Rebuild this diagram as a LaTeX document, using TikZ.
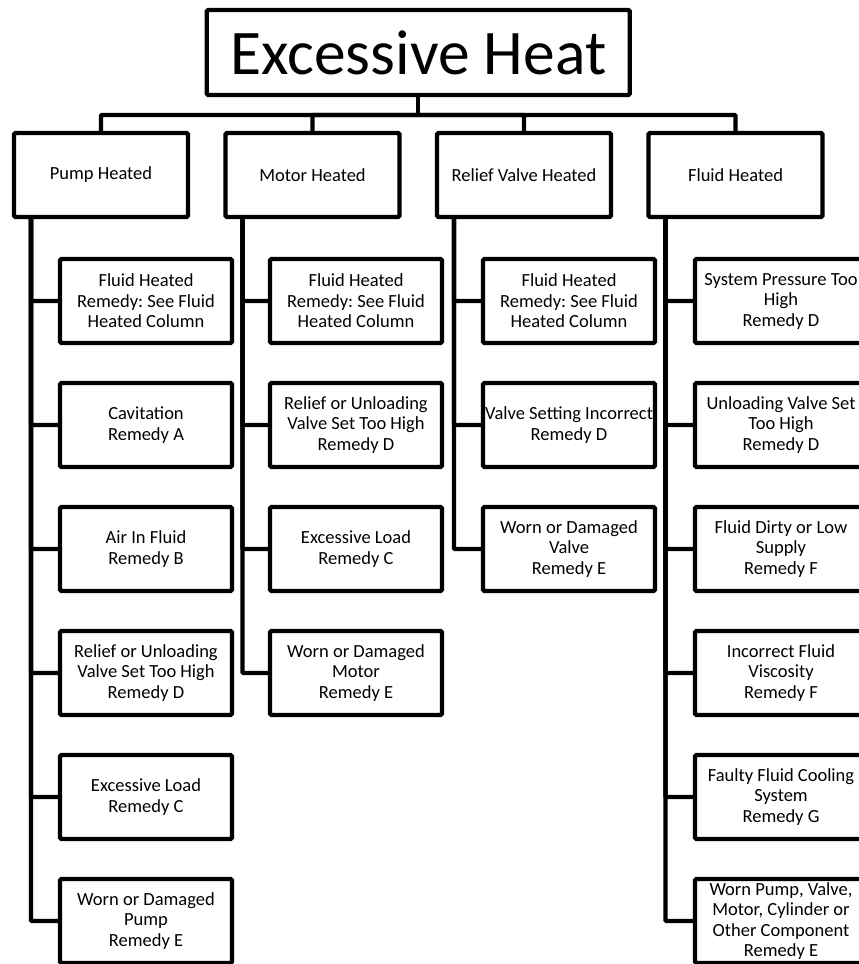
\documentclass[tikz,border=0pt]{standalone}
\usepackage{fontspec}
\setmainfont{Carlito}
\frenchspacing
\usetikzlibrary{positioning}
\tikzset{
  titlebox/.style={
    draw=black, line width=4.3pt, rounded corners=1.5pt,
    outer sep=0pt, minimum width=423pt, minimum height=85pt,
    font=\fontsize{63.5}{70}\selectfont
  },
  groupbox/.style={
    draw=black, line width=4.3pt, rounded corners=1.5pt,
    outer sep=0pt, inner xsep=0pt, minimum width=174pt,
    minimum height=84pt, align=center,
    font=\fontsize{18.5}{20.5}\selectfont
  },
  causebox/.style={
    draw=black, line width=4.3pt, rounded corners=1.5pt,
    outer sep=0pt, inner xsep=0pt, minimum width=172pt,
    minimum height=84pt, align=center,
    font=\fontsize{18.5}{20.5}\selectfont
  },
  treelink/.style={
    draw=black, line width=4.3pt, rounded corners=1pt
  },
}

\begin{document}
\begin{tikzpicture}[x=1pt, y=1pt, node distance=40pt]

  \useasboundingbox (0,0) rectangle (859,-964);
  \clip (0,0) rectangle (859,-964);

  \node[titlebox] (heat) at (418.25,-52.5) {Excessive Heat};

  %% Groups
  \node[groupbox, below=38pt of heat, xshift=-317.25pt] (pump)
    {Pump Heated};
  \node[groupbox, below=38pt of heat, xshift=-105.75pt] (motor)
    {Motor Heated};
  \node[groupbox, below=38pt of heat, xshift=105.75pt] (relief)
    {Relief Valve Heated};
  \node[groupbox, below=38pt of heat, xshift=317.25pt] (fluid)
    {Fluid Heated};

  %% Top links
  \coordinate (bus) at ([yshift=-20pt]heat.south);
  \draw[treelink] (heat.south) -- (bus);
  \draw[treelink] (bus) -| (pump.north);
  \draw[treelink] (bus) -| (motor.north);
  \draw[treelink] (bus) -| (relief.north);
  \draw[treelink] (bus) -| (fluid.north);

  %% Pump column
  \node[causebox, below=42pt of pump, xshift=45pt] (pump1)
    {Fluid Heated\\Remedy: See Fluid\\Heated Column};
  \node[causebox, below=of pump1] (pump2)
    {Cavitation\\Remedy A};
  \node[causebox, below=of pump2] (pump3)
    {Air In Fluid\\Remedy B};
  \node[causebox, below=of pump3] (pump4)
    {Relief or Unloading\\Valve Set Too High\\Remedy D};
  \node[causebox, below=of pump4] (pump5)
    {Excessive Load\\Remedy C};
  \node[causebox, below=of pump5] (pump6)
    {Worn or Damaged\\Pump\\Remedy E};

  %% Motor column
  \node[causebox, below=42pt of motor, xshift=43.5pt] (motor1)
    {Fluid Heated\\Remedy: See Fluid\\Heated Column};
  \node[causebox, below=of motor1] (motor2)
    {Relief or Unloading\\Valve Set Too High\\Remedy D};
  \node[causebox, below=of motor2] (motor3)
    {Excessive Load\\Remedy C};
  \node[causebox, below=of motor3] (motor4)
    {Worn or Damaged\\Motor\\Remedy E};

  %% Relief valve column
  \node[causebox, below=42pt of relief, xshift=45pt] (relief1)
    {Fluid Heated\\Remedy: See Fluid\\Heated Column};
  \node[causebox, below=of relief1] (relief2)
    {Valve Setting Incorrect\\Remedy D};
  \node[causebox, below=of relief2] (relief3)
    {Worn or Damaged\\Valve\\Remedy E};

  %% Fluid column
  \node[causebox, below=42pt of fluid, xshift=45.5pt] (fluid1)
    {System Pressure Too\\High\\Remedy D};
  \node[causebox, below=of fluid1] (fluid2)
    {Unloading Valve Set\\Too High\\Remedy D};
  \node[causebox, below=of fluid2] (fluid3)
    {Fluid Dirty or Low\\Supply\\Remedy F};
  \node[causebox, below=of fluid3] (fluid4)
    {Incorrect Fluid\\Viscosity\\Remedy F};
  \node[causebox, below=of fluid4] (fluid5)
    {Faulty Fluid Cooling\\System\\Remedy G};
  \node[causebox, below=of fluid5] (fluid6)
    {Worn Pump, Valve,\\Motor, Cylinder or\\Other Component\\Remedy E};

  %% Column links
  \foreach \c in {1,...,6}
    \draw[treelink] ([xshift=17pt]pump.south west) |- (pump\c.west);
  \foreach \c in {1,...,4}
    \draw[treelink] ([xshift=17pt]motor.south west) |- (motor\c.west);
  \foreach \c in {1,...,3}
    \draw[treelink] ([xshift=17pt]relief.south west) |- (relief\c.west);
  \foreach \c in {1,...,6}
    \draw[treelink] ([xshift=17pt]fluid.south west) |- (fluid\c.west);

\end{tikzpicture}
\end{document}
